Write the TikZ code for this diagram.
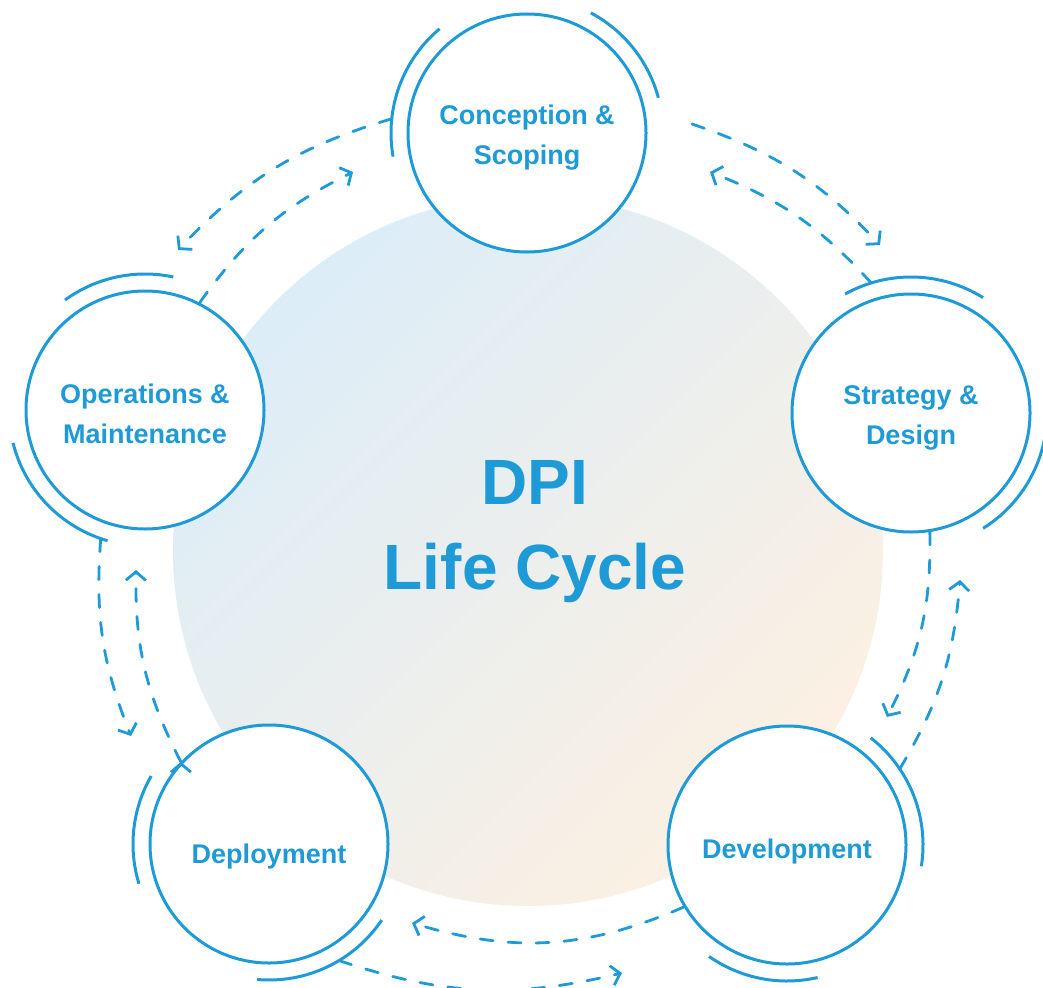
\documentclass[tikz,border=0pt]{standalone}
\usepackage{fontspec}
\setmainfont{Liberation Sans}
\usetikzlibrary{arrows.meta}
\definecolor{dpiblue}{HTML}{1E9BD7}
\definecolor{bgblue}{HTML}{DCEDF8}
\definecolor{bggray}{HTML}{EFEFEE}
\definecolor{bgpeach}{HTML}{FCF0E2}

\begin{document}
\begin{tikzpicture}[->,>={Straight Barb[length=8.5pt,width=20pt]},x=1pt,y=1pt,
    main node/.style={circle,draw=dpiblue,line width=3pt,fill=white,minimum size=238pt,inner sep=0pt,align=center,text=dpiblue,font=\fontsize{27}{40}\selectfont\bfseries,text height=68pt},
    ring/.style={-,draw=dpiblue,line width=3pt},
    flow/.style={draw=dpiblue,line width=2.8pt,dash pattern=on 13pt off 15pt,line cap=round}]
            \useasboundingbox (0,0) rectangle (1043,-987);
            \shade[-,top color=bgblue,middle color=bggray,bottom color=bgpeach,shading angle=45] (528,-551) circle (355);

            \node [text=dpiblue,align=center,font=\fontsize{64}{85}\selectfont\bfseries](0) at (535,-532) {DPI\\Life Cycle};

            \node [main node](1) at (527,-133) {Conception \&\\Scoping};
            \node [main node](2) at (911,-413) {Strategy \&\\Design};
            \node [main node,text height=32pt](3) at (787,-845) {Development};
            \node [main node,text height=44pt](4) at (269,-844) {Deployment};
            \node [main node](5) at (145,-410) {Operations \&\\Maintenance};

            \draw[ring] (1.center) ++(130:136) arc[start angle=130,end angle=190,radius=136];
            \draw[ring] (1.center) ++(15:136) arc[start angle=15,end angle=62,radius=136];
            \draw[ring] (2.center) ++(58:136) arc[start angle=58,end angle=119,radius=136];
            \draw[ring] (2.center) ++(-58:136) arc[start angle=-58,end angle=10,radius=136];
            \draw[ring] (3.center) ++(-9:136) arc[start angle=-9,end angle=52,radius=136];
            \draw[ring] (3.center) ++(-125:136) arc[start angle=-125,end angle=-77,radius=136];
            \draw[ring] (4.center) ++(150:136) arc[start angle=150,end angle=197,radius=136];
            \draw[ring] (4.center) ++(-95:136) arc[start angle=-95,end angle=-34,radius=136];
            \draw[ring] (5.center) ++(78:136) arc[start angle=78,end angle=126,radius=136];
            \draw[ring] (5.center) ++(194:136) arc[start angle=194,end angle=254,radius=136];

            \coordinate (a1) at ([shift={(174:136)}]1.center);
            \coordinate (a2) at (178,-250);
            \coordinate (b2) at (353,-172);
            \coordinate (c1) at (692,-124);
            \coordinate (c2) at (880,-245);
            \coordinate (d1) at ([shift={(107:136)}]2.center);
            \coordinate (d2) at (710,-172);
            \coordinate (e2) at (887,-717);
            \coordinate (f1) at ([shift={(34:136)}]3.center);
            \coordinate (f2) at (960,-580);
            \coordinate (g2) at (412,-923);
            \coordinate (h1) at ([shift={(-59:136)}]4.center);
            \coordinate (h2) at (622,-973);
            \coordinate (i1) at ([shift={(-109:136)}]5.center);
            \coordinate (i2) at (131,-736);
            \coordinate (j2) at (136,-570);

            \path[flow]
                (a1) edge[bend right=15] (a2)
                (5.63) edge[bend left=14] (b2)
                (c1) edge[bend left=14] (c2)
                (d1) edge[bend right=13] (d2)
                (2.-81) edge[bend left=14] (e2)
                (f1) edge[bend right=13] (f2)
                (3.-149) edge[bend left=20] (g2)
                (h1) edge[bend right=16] (h2)
                (i1) edge[bend right=13] (i2)
                (4.137) edge[bend left=14] (j2)
                ;
        \end{tikzpicture}
\end{document}
